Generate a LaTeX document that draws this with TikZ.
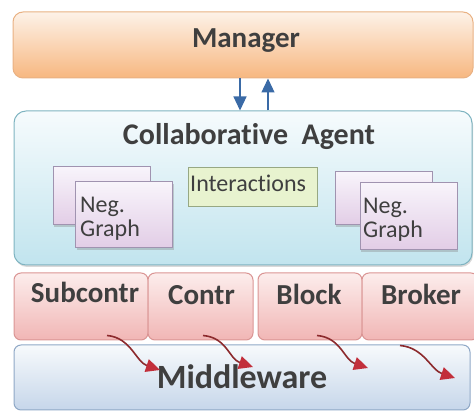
\documentclass[tikz,border=0pt]{standalone}
\usepackage{fontspec}
\setmainfont{Carlito}[Ligatures=NoCommon]
\usetikzlibrary{arrows.meta,shadows}

\definecolor{mgrtop}{HTML}{FDF2E8}
\definecolor{mgrbot}{HTML}{F7B780}
\definecolor{mgrline}{HTML}{E9B183}
\definecolor{agtop}{HTML}{F6FBFD}
\definecolor{agbot}{HTML}{C1E4EE}
\definecolor{agline}{HTML}{7FB4C1}
\definecolor{ngtop}{HTML}{F8F4FB}
\definecolor{ngbot}{HTML}{E2CDE6}
\definecolor{ngline}{HTML}{A093B0}
\definecolor{intfill}{HTML}{E8F3CF}
\definecolor{intline}{HTML}{97A883}
\definecolor{roletop}{HTML}{FCEDEC}
\definecolor{rolebot}{HTML}{F1B6B5}
\definecolor{roleline}{HTML}{DA9594}
\definecolor{mwtop}{HTML}{F7FAFC}
\definecolor{mwbot}{HTML}{C6D6EA}
\definecolor{mwline}{HTML}{8FA8C6}
\definecolor{txt}{HTML}{3F3F3F}
\definecolor{flowblue}{HTML}{3A6AA6}
\definecolor{msgline}{HTML}{8C2A2D}
\definecolor{msghead}{HTML}{C22F3B}

\tikzset{
  lbl/.style={text=txt, inner sep=0pt, anchor=base},
  layer/.style={draw, line width=1pt, inner sep=0pt},
  neggraph/.style={layer, top color=ngtop, bottom color=ngbot, draw=ngline,
    minimum width=97pt, drop shadow={shadow xshift=1pt, shadow yshift=-2pt, opacity=.35}},
  role/.style={layer, rounded corners=7pt, top color=roletop, bottom color=rolebot,
    draw=roleline, minimum height=67pt},
  flow/.style={flowblue, line width=1.2pt, -{Triangle[length=14pt,width=13pt]}},
  msg/.style={msgline, line width=1.6pt, -{Triangle[length=14pt,width=13pt,color=msghead]}}
}

\begin{document}
\begin{tikzpicture}[x=1pt,y=-1pt]
  \useasboundingbox (0,0) rectangle (474,411);
  \node[layer, rounded corners=10pt, top color=mgrtop, bottom color=mgrbot, draw=mgrline,
    minimum width=460pt, minimum height=66pt] (manager) at (243,45) {};
  \node[lbl, font=\fontsize{29}{32}\bfseries] (manager-t) at (246,48) {Manager};
  \node[layer, rounded corners=12pt, top color=agtop, bottom color=agbot, draw=agline,
    minimum width=458pt, minimum height=154pt,
    drop shadow={shadow xshift=1pt, shadow yshift=-2pt, opacity=.3}] (agent) at (243,188) {};
  \node[lbl, font=\fontsize{30}{33}\bfseries] (agent-t) at (249,145) {Collaborative\hspace{0.45em}Agent};
  \draw[flow] ([xshift=-3pt]manager.south) -- ([xshift=-3pt]agent.north);
  \draw[flow] ([xshift=25pt]agent.north) -- ([xshift=25pt]manager.south);
  \node[neggraph, minimum height=58pt] (ng1-back) at (101.5,196) {};
  \node[neggraph, minimum height=66pt] (ng1) at (124,215) {};
  \node[lbl, anchor=base west, align=left, font=\fontsize{24}{24}\selectfont] (ng1-t) at (80,237) {Neg.\\Graph};
  \node[layer, fill=intfill, draw=intline, minimum width=129pt, minimum height=39pt] (interact) at (252.5,187.5) {};
  \node[lbl, anchor=base west, font=\fontsize{24}{26}\selectfont] (interact-t) at (190,192) {Interactions};
  \node[neggraph, minimum height=53pt] (ng2-back) at (383.5,198.5) {};
  \node[neggraph, minimum height=67pt] (ng2) at (408.5,216.5) {};
  \node[lbl, anchor=base west, align=left, font=\fontsize{24}{24}\selectfont] (ng2-t) at (363,238) {Neg.\\Graph};
  \node[role, minimum width=134pt] (subcontr) at (81,306.5) {};
  \node[role, minimum width=105pt] (contr) at (200.5,306.5) {};
  \node[role, minimum width=104pt] (block) at (310,306.5) {};
  \node[role, minimum width=116pt] (broker) at (420,306.5) {};
  \node[lbl, font=\fontsize{29}{32}\bfseries] (subcontr-t) at (85,303) {Subcontr};
  \node[lbl, font=\fontsize{29}{32}\bfseries] (contr-t) at (201.5,305) {Contr};
  \node[lbl, font=\fontsize{29}{32}\bfseries] (block-t) at (309,305) {Block};
  \node[lbl, font=\fontsize{29}{32}\bfseries] (broker-t) at (421,305) {Broker};
  \node[layer, rounded corners=7pt, top color=mwtop, bottom color=mwbot, draw=mwline,
    minimum width=456pt, minimum height=65pt] (middleware) at (242,377.5) {};
  \node[lbl, font=\fontsize{34}{37}\bfseries] (middleware-t) at (242,389) {Middleware};
  \coordinate (in1) at (160,370);
  \coordinate (in2) at (253,367);
  \coordinate (in3) at (368,368);
  \coordinate (in4) at (455,378);
  \draw[msg] ([shift={(26,-5)}]subcontr.south) .. controls +(24,2) and +(-24,-8) .. (in1);
  \draw[msg] ([shift={(2.5,-5)}]contr.south) .. controls +(24,2) and +(-24,-8) .. (in2);
  \draw[msg] ([shift={(7,-5)}]block.south) .. controls +(24,2) and +(-24,-8) .. (in3);
  \draw[msg] ([shift={(-20,5)}]broker.south) .. controls +(24,2) and +(-24,-8) .. (in4);
\end{tikzpicture}
\end{document}
